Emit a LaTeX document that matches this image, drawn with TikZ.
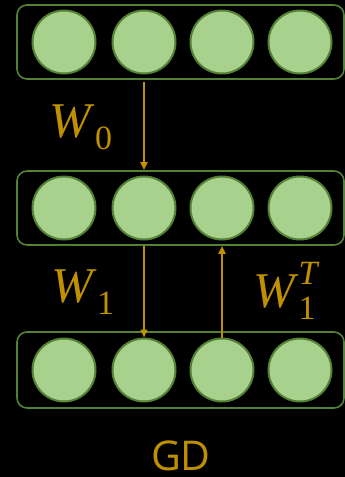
\documentclass[tikz,border=0pt]{standalone}
\usepackage{fontspec}
\newfontfamily\gdfont{Open Sans}
\newfontfamily\wfont{Liberation Serif}
\usetikzlibrary{arrows.meta}
\definecolor{gold}{HTML}{BF9000}
\definecolor{lgreen}{HTML}{A9D18E}
\definecolor{dgreen}{HTML}{548235}
\newcommand{\wsub}[1]{\raisebox{-0.24em}{\fontsize{34}{34}\selectfont #1}}
\newcommand{\wsup}[1]{\raisebox{0.46em}{\fontsize{34}{34}\selectfont\itshape #1}}
\tikzset{
  neuron/.style={circle, fill=lgreen, draw=dgreen, line width=2pt, minimum size=63pt, inner sep=0pt},
  layerbox/.style={draw=dgreen, line width=1.6pt, rounded corners=10pt, minimum width=327pt, minimum height=74pt, inner sep=0pt},
  conn/.style={draw=gold, line width=2.3pt, -{Triangle[length=8pt,width=7pt]}},
  wlabel/.style={text=gold, font=\wfont\fontsize{50}{50}\selectfont, inner sep=0pt}
}
\begin{document}
\begin{tikzpicture}[x=1pt,y=-1pt]
\fill[black] (0,0) rectangle (345,477);
\useasboundingbox (0,0) rectangle (345,477);
% layer boxes
\node[layerbox] (b1) at (180.5,42) {};
\node[layerbox] (b2) at (180.5,208) {};
\node[layerbox, minimum height=76pt] (b3) at (180.5,370) {};
% neurons
\foreach \r/\y in {1/42, 2/208, 3/370}{
  \foreach \c/\x in {1/64, 2/144, 3/222, 4/300}{
    \node[neuron] (c\r\c) at (\x,\y) {};
  }
}
% connectors
\draw[conn] (c12 |- b1.south) ++(0,2) -- (c22 |- b2.north);
\draw[conn] (c22 |- b2.south) -- (c32.north);
\draw[conn] (c33.north) -- (c23 |- b2.south);
% labels
\node[wlabel] (w0) at (81,127) {\textit{W}\wsub{0}};
\node[wlabel] (w1) at (83,292) {\textit{W}\wsub{1}};
\node[wlabel] (w1t) at (286,291) {\textit{W}\rlap{\wsup{T}}\wsub{1}\kern3pt};
\node[text=gold, font=\gdfont\fontsize{41}{42}\selectfont, inner sep=0pt, text depth=0pt, anchor=base] (gd) at (181,470) {GD};
\end{tikzpicture}
\end{document}
